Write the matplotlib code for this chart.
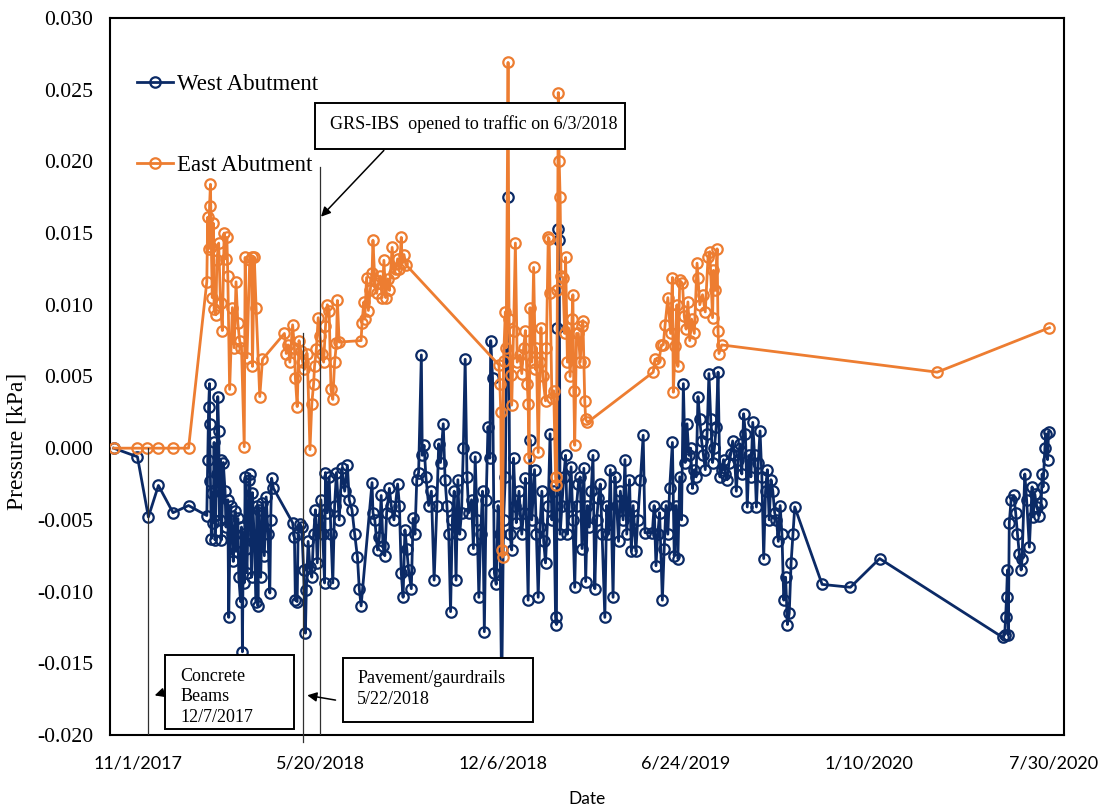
import numpy as np
import pandas as pd
import matplotlib
matplotlib.use("Agg")
import matplotlib.pyplot as plt
from matplotlib.patches import Rectangle

# days counted from 11/1/2017, pressures in kPa
west_days = [
    -27, -1, 11, 22, 38, 55,
    75, 76, 77, 78, 78, 79, 80, 81, 82, 83, 84, 86, 87, 88, 89, 90, 91, 93, 95,
    96, 98, 99, 101, 103, 104, 106, 107, 109, 110, 112, 113, 114, 115, 116, 117, 118, 119,
    121, 122, 123, 124, 125, 127, 129, 130, 131, 132, 134, 136, 138, 140, 142, 144, 145, 146, 148,
    169, 171, 172, 174, 175, 177, 179, 181, 183, 184, 186, 188, 190, 192, 194, 196, 198, 200,
    202, 204, 205, 207, 209,
    211, 213, 215, 217, 220, 223, 226, 229, 231, 234, 237, 240, 242, 244,
    256, 257, 259, 262, 264, 266, 268, 270, 272, 275, 277, 280, 284, 286, 288, 290, 292, 294,
    296, 299, 301, 303, 305, 307, 310, 311,
    313, 315, 318, 321, 324, 327, 329, 331, 334, 336, 338, 340, 342, 344, 346, 348, 350, 352,
    354, 356, 358, 360, 362, 365, 367, 369, 371, 373, 375, 377, 379, 381, 383, 385, 386, 388,
    390, 392, 394, 396, 398, 400,
    402, 405, 407, 409, 411, 413, 414, 417, 420, 422, 424, 427, 429, 431, 434, 436, 438, 440,
    442, 444, 446, 449, 451, 453, 455, 457, 458, 459, 460, 461, 462, 464, 466, 468, 470, 472,
    474, 476, 478, 480, 482, 484, 486, 488, 490, 492, 494, 496, 498, 500, 502, 504, 506, 508,
    511, 513, 515, 517, 520, 522, 524, 526, 528, 531, 533, 535, 538, 540, 542, 545, 547, 550,
    553, 555,
    563, 565, 567, 569, 571, 574, 576, 578, 580, 582, 585, 587, 589, 591, 593, 595, 597, 599,
    601, 603, 605, 607, 609, 611, 613, 615, 617, 619, 621, 623, 625, 627, 629, 631, 633, 635,
    637, 639, 641, 643, 645, 647, 649, 651, 653, 655, 657, 659, 661, 663, 665, 667, 669, 671,
    673, 675, 677, 679, 681, 683, 685, 687, 689, 691, 693, 695, 697, 699, 701, 703, 705, 707,
    709, 711, 713, 715, 717, 719,
    749, 780, 812, 947, 949, 950, 951, 952, 953, 954, 956, 959, 961, 963, 965, 967, 968, 971,
    973, 976, 979, 980, 982, 984, 987, 989, 990, 991, 993, 994, 996, 997,
]
west_kpa = [
    0.0, -0.0006, -0.0048, -0.0026, -0.0045, -0.0040,
    -0.0047, -0.0008, 0.0029, 0.0045, 0.0017, -0.0023, -0.0063, -0.0031, -0.0052, 0.0004,
    -0.0064, -0.0018, 0.0036, 0.0012, -0.0050, -0.0008, -0.0064, -0.0010, -0.0030,
    -0.0055, -0.0036, -0.0118, -0.0040, -0.0060, -0.0079, -0.0044, -0.0072, -0.0049, -0.0090,
    -0.0107, -0.0055, -0.0142, -0.0060, -0.0094, -0.0020, -0.0070, -0.0087, -0.0022, -0.0018,
    -0.0060, -0.0090, -0.0031, -0.0065, -0.0107, -0.0040, -0.0110, -0.0043, -0.0090, -0.0038,
    -0.0075, -0.0034, -0.0060, -0.0101, -0.0050, -0.0021, -0.0028,
    -0.0052, -0.0062, -0.0106, -0.0107, -0.0060, -0.0053, -0.0055, -0.0085, -0.0129, -0.0099,
    -0.0065, -0.0083, -0.0090, -0.0060, -0.0043, -0.0080, -0.0050, -0.0036, -0.0060, -0.0094,
    -0.0017, -0.0045, -0.0020,
    -0.0060, -0.0094, -0.0040, -0.0017, -0.0050, -0.0014, -0.0030, -0.0012, -0.0036, -0.0043,
    -0.0060, -0.0076, -0.0098, -0.0110,
    -0.0024, -0.0045, -0.0050, -0.0071, -0.0062, -0.0033, -0.0068, -0.0075, -0.0045, -0.0028,
    -0.0040, -0.0050, -0.0025, -0.0040, -0.0087, -0.0104, -0.0057, -0.0070, -0.0085, -0.0098,
    -0.0049, -0.0060, -0.0022, -0.0017, 0.0065, -0.0005,
    0.0002, -0.0020, -0.0040, -0.0030, -0.0092, -0.0040, 0.0003, -0.0010, 0.0017, -0.0022,
    -0.0040, -0.0060, -0.0114, -0.0050, -0.0030, -0.0092, -0.0022, -0.0060, -0.0045, 0.0000,
    0.0062, -0.0020, -0.0045, -0.0036, -0.0070, -0.0006, -0.0050, -0.0104, -0.0060, -0.0030,
    -0.0128, -0.0036, 0.0015, -0.0007, 0.0075, 0.0049, -0.0087, -0.0095, -0.0040, -0.0060,
    -0.0172, -0.0050,
    -0.0020, 0.0175, -0.0060, -0.0071, -0.0007, -0.0040, -0.0052, -0.0030, -0.0060, -0.0045,
    -0.0021, -0.0106, 0.0006, -0.0050, -0.0015, -0.0060, -0.0104, -0.0055, -0.0030, -0.0065,
    -0.0080, -0.0040, 0.0010, -0.0050, -0.0030, -0.0118, -0.0123, 0.0084, 0.0153, 0.0145,
    -0.0060, -0.0040, -0.0020, -0.0005, -0.0060, -0.0040, -0.0013, -0.0050, -0.0097, -0.0040,
    -0.0025, -0.0020, -0.0070, -0.0014, -0.0093, -0.0040, -0.0055, -0.0030, -0.0005, -0.0098,
    -0.0050, -0.0035, -0.0025, -0.0060, -0.0118, -0.0040, -0.0060, -0.0015, -0.0104, -0.0020,
    -0.0040, -0.0065, -0.0030, -0.0050, -0.0008, -0.0060, -0.0022, -0.0072, -0.0040, -0.0072,
    -0.0050, -0.0022, 0.0009, -0.0059,
    -0.0059, -0.0040, -0.0082, -0.0060, -0.0045, -0.0106, -0.0070, -0.0040, -0.0060, -0.0028,
    0.0004, -0.0075, -0.0040, -0.0077, -0.0020, -0.0050, 0.0045, -0.0010, 0.0017, -0.0005,
    0.0000, -0.0028, -0.0015, -0.0020, 0.0036, 0.0020, 0.0005, -0.0005, -0.0015, 0.0010,
    0.0052, 0.0020, -0.0010, 0.0000, 0.0015, 0.0053, -0.0020, -0.0015, -0.0008, -0.0018,
    -0.0022, -0.0010, -0.0004, 0.0005, -0.0005, -0.0030, -0.0008, 0.0003, -0.0018, 0.0024,
    0.0010, -0.0041, -0.0005, -0.0020, 0.0018, -0.0005, -0.0041, -0.0010, 0.0012, -0.0020,
    -0.0077, -0.0030, -0.0015, -0.0050, -0.0022, -0.0030, -0.0045, -0.0050, -0.0065, -0.0040,
    -0.0060, -0.0106, -0.0090, -0.0123, -0.0115, -0.0080, -0.0060, -0.0041,
    -0.0095, -0.0097, -0.0077, -0.0132, -0.0130, -0.0118, -0.0104, -0.0085, -0.0130, -0.0052,
    -0.0036, -0.0033, -0.0045, -0.0060, -0.0074, -0.0085, -0.0077, -0.0018, -0.0036, -0.0069,
    -0.0027, -0.0048, -0.0032, -0.0041, -0.0047, -0.0038, -0.0018, -0.0027, 0.0000, 0.0010,
    -0.0008, 0.0011,
]

east_days = [
    -27, -1, 10, 22, 38, 55,
    75, 76, 77, 78, 79, 80, 81, 82, 83, 85, 86, 88, 90, 92, 94, 96, 97, 98, 100, 103, 105,
    107, 109, 111, 113, 116, 117, 119, 122, 124, 125, 127, 129, 133, 136,
    160, 162, 164, 166, 169, 171, 172, 174, 176, 178, 180, 182, 185, 188, 190, 192, 193, 195,
    197, 199, 201, 203, 205, 207, 209, 211, 213, 215, 217, 218, 220,
    244, 245, 247, 248, 250, 252, 254, 256, 257, 259, 261, 263, 265, 267, 269, 271, 273, 275,
    278, 280, 282, 284, 286, 288, 289, 291, 293,
    395, 396, 397, 398, 399, 400, 402, 403, 405, 406, 408, 409, 411, 413, 415, 418, 420, 422,
    424, 426, 427, 428, 429, 431, 433, 435, 436, 438, 440, 441, 443, 446, 447, 449, 450, 451,
    453, 455, 457, 458, 459, 460, 461, 462, 463, 465, 467, 468, 470, 471, 473, 475, 476, 477,
    478, 480, 482, 484, 486, 487, 488, 489, 490, 492,
    564, 566, 570, 573, 575, 577, 580, 583, 585, 586, 588, 590, 591, 593, 596, 598, 600, 602,
    604, 606, 609, 612, 613, 615, 618, 621, 624, 626, 629, 630, 632, 634, 635, 636, 639,
    875, 998,
]
east_kpa = [
    0.0, 0.0, 0.0, 0.0, 0.0, 0.0,
    0.0116, 0.0161, 0.0139, 0.0169, 0.0184, 0.0140, 0.0105, 0.0157, 0.0097, 0.0093, 0.0131,
    0.0143, 0.0101, 0.0082, 0.0150, 0.0132, 0.0147, 0.0120, 0.0041, 0.0098, 0.0070, 0.0116,
    0.0087, 0.0075, 0.0070, 0.0001, 0.0133, 0.0063, 0.0131, 0.0133, 0.0057, 0.0133, 0.0098,
    0.0036, 0.0062,
    0.0080, 0.0066, 0.0072, 0.0060, 0.0086, 0.0070, 0.0049, 0.0029, 0.0075, 0.0068, 0.0060,
    0.0055, 0.0066, -0.0001, 0.0031, 0.0045, 0.0057, 0.0069, 0.0091, 0.0078, 0.0066, 0.0060,
    0.0085, 0.0100, 0.0096, 0.0041, 0.0034, 0.0060, 0.0073, 0.0103, 0.0074,
    0.0075, 0.0087, 0.0102, 0.0090, 0.0119, 0.0096, 0.0110, 0.0122, 0.0145, 0.0117, 0.0108,
    0.0115, 0.0120, 0.0105, 0.0131, 0.0105, 0.0118, 0.0110, 0.0140, 0.0122, 0.0125, 0.0132,
    0.0125, 0.0147, 0.0129, 0.0135, 0.0128,
    0.0058, 0.0045, 0.0025, -0.0071, -0.0076, 0.0061, 0.0095, 0.0070, 0.0269, 0.0090, 0.0051,
    0.0030, 0.0082, 0.0143, 0.0060, 0.0065, 0.0052, 0.0070, 0.0082, 0.0045, 0.0031, -0.0007,
    0.0098, 0.0060, 0.0126, 0.0055, 0.0070, -0.0003, 0.0060, 0.0084, 0.0050, 0.0033, 0.0070,
    0.0147, 0.0146, 0.0108, 0.0035, 0.0040, -0.0020, -0.0026, 0.0110, 0.0248, 0.0200, 0.0175,
    0.0120, 0.0119, 0.0080, 0.0133, 0.0060, 0.0084, 0.0050, 0.0090, 0.0107, 0.0040, 0.0002,
    0.0080, 0.0080, 0.0060, 0.0085, 0.0089, 0.0060, 0.0033, 0.0020, 0.0018,
    0.0053, 0.0062, 0.0060, 0.0072, 0.0072, 0.0086, 0.0105, 0.0080, 0.0119, 0.0039, 0.0071,
    0.0100, 0.0057, 0.0117, 0.0115, 0.0092, 0.0083, 0.0102, 0.0075, 0.0090, 0.0080, 0.0129,
    0.0119, 0.0100, 0.0107, 0.0095, 0.0133, 0.0137, 0.0091, 0.0124, 0.0110, 0.0139, 0.0082,
    0.0066, 0.0072,
    0.0053, 0.0084,
]

tick_labels = ['11/1/2017', '5/20/2018', '12/6/2018', '6/24/2019', '1/10/2020', '7/30/2020']

start = pd.Timestamp('2017-11-01')
west_dates = start + pd.to_timedelta(west_days, unit='D')
east_dates = start + pd.to_timedelta(east_days, unit='D')

serif = ['Liberation Serif', 'DejaVu Serif']
sans = ['Lato', 'DejaVu Sans']

fig = plt.figure(figsize=(11.07, 8.09), dpi=100)
ax = fig.add_axes([0.0994, 0.0915, 0.8618, 0.8863])

ax.plot(west_dates, west_kpa, color='#0b2a66', lw=2, marker='o', ms=7.5,
        mfc='none', mew=1.6, label='West Abutment', zorder=3)
ax.plot(east_dates, east_kpa, color='#ed7d31', lw=2, marker='o', ms=7.5,
        mfc='none', mew=1.6, label='East Abutment', zorder=4)

yt = np.arange(-0.020, 0.0301, 0.005)
ax.set_ylim(-0.020, 0.030)
ax.set_yticks(yt)
ax.set_yticklabels([f'{v:.3f}' for v in yt], family=serif, fontsize=15.7)
ax.set_xlim(start - pd.Timedelta(days=31), start + pd.Timedelta(days=1014))
ax.set_xticks(pd.to_datetime(tick_labels))
ax.set_xticklabels(tick_labels, family=sans, fontsize=13)
ax.tick_params(length=0)
ax.tick_params(axis='y', pad=12)
ax.tick_params(axis='x', pad=15)
for s in ax.spines.values():
    s.set_linewidth(1.5)

ax.set_ylabel('Pressure [kPa]', family=serif, fontsize=17)
ax.yaxis.set_label_coords(-0.086, 0.409)
ax.set_xlabel('Date', family=sans, fontsize=12.5, labelpad=14)

leg = ax.legend(loc='upper left', bbox_to_anchor=(0.007, 0.95), frameon=False,
                prop={'family': serif, 'size': 16.5}, labelspacing=2.6,
                handlelength=1.55, handletextpad=0.2)

# event lines
line_kw = dict(color='#303030', lw=0.9, zorder=5)
ax.plot([start + pd.Timedelta(days=11)] * 2, [-0.020, 0.0000], **line_kw)
ax.plot([start + pd.Timedelta(days=180)] * 2, [-0.0205, 0.0080], clip_on=False, **line_kw)
ax.plot([start + pd.Timedelta(days=199)] * 2, [-0.020, 0.0196], **line_kw)

# boxes
box_kw = dict(transform=ax.transAxes, fc='white', ec='black', lw=1.4, zorder=6)
ax.add_patch(Rectangle((0.0577, 0.008), 0.1352, 0.103, **box_kw))
ax.add_patch(Rectangle((0.2442, 0.018), 0.1992, 0.089, **box_kw))
ax.add_patch(Rectangle((0.2149, 0.8173), 0.3249, 0.0642, **box_kw))
tkw = dict(transform=ax.transAxes, family=serif, fontsize=13, zorder=7,
           ha='left', va='top', linespacing=1.3)
ax.text(0.0734, 0.094, 'Concrete\nBeams\n12/7/2017', **tkw)
ax.text(0.2589, 0.090, 'Pavement/gaurdrails\n5/22/2018', **tkw)
ax.text(0.2306, 0.852, 'GRS-IBS  opened to traffic on 6/3/2018',
        **{**tkw, 'va': 'center'})

arrow = dict(arrowstyle='-|>', color='black', lw=1.1, mutation_scale=14)
ax.annotate('', xy=(start + pd.Timedelta(days=198), 0.0160),
            xytext=(start + pd.Timedelta(days=271), 0.0209), arrowprops=arrow, zorder=7)
ax.annotate('', xy=(start + pd.Timedelta(days=15), -0.0173),
            xytext=(start + pd.Timedelta(days=30), -0.0170), arrowprops=arrow, zorder=7)
ax.annotate('', xy=(start + pd.Timedelta(days=182), -0.0172),
            xytext=(start + pd.Timedelta(days=219), -0.0176), arrowprops=arrow, zorder=7)

fig.savefig('out.png', dpi=100)
